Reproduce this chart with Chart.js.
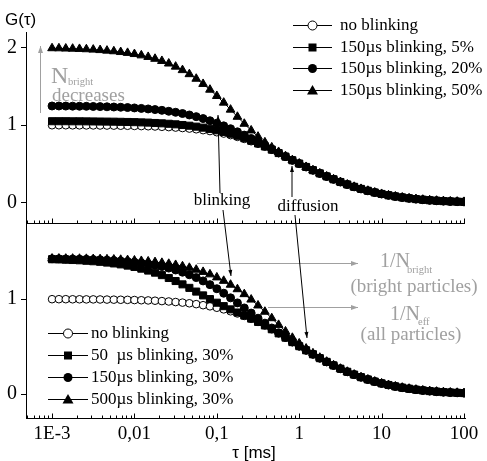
<!DOCTYPE html>
<html><head><meta charset="utf-8">
<script src="https://cdn.jsdelivr.net/npm/chart.js@4/dist/chart.umd.min.js"></script>
<style>html,body{margin:0;padding:0;background:#fff;}#wrap{width:487px;height:461px;position:relative;}</style>
</head><body><div id="wrap"><canvas id="c" width="487" height="461"></canvas></div>
<script>
// ---- data (tau in ms) ----
const tau = [0.001,0.001212,0.001468,0.001778,0.002154,0.002610,0.003162,0.003831,0.004642,0.005623,0.006813,0.008254,
  0.01,0.01212,0.01468,0.01778,0.02154,0.02610,0.03162,0.03831,0.04642,0.05623,0.06813,0.08254,
  0.1,0.1212,0.1468,0.1778,0.2154,0.2610,0.3162,0.3831,0.4642,0.5623,0.6813,0.8254,
  1,1.212,1.468,1.778,2.154,2.610,3.162,3.831,4.642,5.623,6.813,8.254,
  10,12.12,14.68,17.78,21.54,26.10,31.62,38.31,46.42,56.23,68.13,82.54,100];
const noBlink = [0.999,0.999,0.999,0.998,0.998,0.997,0.997,0.996,0.995,0.994,0.993,0.992,
  0.990,0.988,0.986,0.983,0.979,0.975,0.969,0.963,0.956,0.947,0.936,0.924,
  0.909,0.892,0.872,0.849,0.823,0.793,0.760,0.723,0.683,0.640,0.595,0.548,
  0.505,0.462,0.420,0.379,0.340,0.303,0.268,0.236,0.206,0.179,0.155,0.133,
  0.114,0.097,0.082,0.069,0.058,0.048,0.040,0.033,0.027,0.022,0.018,0.015,0.012];
const top5 = [1.051,1.051,1.051,1.050,1.050,1.049,1.048,1.047,1.046,1.045,1.043,1.041,
  1.039,1.036,1.033,1.028,1.024,1.018,1.011,1.002,0.993,0.981,0.968,0.952,
  0.934,0.913,0.889,0.863,0.833,0.800,0.765,0.726,0.685,0.641,0.595,0.548,
  0.505,0.462,0.420,0.379,0.340,0.303,0.268,0.236,0.206,0.179,0.155,0.133,
  0.114,0.097,0.082,0.069,0.058,0.048,0.040,0.033,0.027,0.022,0.018,0.015,0.012];
const top20 = [1.247,1.247,1.246,1.245,1.244,1.243,1.241,1.239,1.237,1.234,1.231,1.227,
  1.222,1.216,1.209,1.201,1.191,1.179,1.166,1.150,1.131,1.110,1.085,1.057,
  1.026,0.991,0.954,0.914,0.872,0.828,0.783,0.737,0.691,0.644,0.596,0.548,
  0.505,0.462,0.420,0.379,0.340,0.303,0.268,0.236,0.206,0.179,0.155,0.133,
  0.114,0.097,0.082,0.069,0.058,0.048,0.040,0.033,0.027,0.022,0.018,0.015,0.012];
const top50 = [1.991,1.990,1.987,1.985,1.982,1.978,1.973,1.967,1.960,1.952,1.942,1.931,
  1.916,1.899,1.879,1.855,1.827,1.794,1.754,1.709,1.657,1.598,1.531,1.457,
  1.376,1.290,1.200,1.108,1.018,0.932,0.852,0.779,0.714,0.655,0.601,0.550,
  0.506,0.462,0.420,0.379,0.340,0.303,0.268,0.236,0.206,0.179,0.155,0.133,
  0.114,0.097,0.082,0.069,0.058,0.048,0.040,0.033,0.027,0.022,0.018,0.015,0.012];
const bot50us = [1.419,1.417,1.414,1.411,1.408,1.403,1.398,1.392,1.384,1.375,1.365,1.352,
  1.338,1.320,1.300,1.278,1.252,1.222,1.190,1.155,1.118,1.079,1.039,1.000,
  0.962,0.926,0.892,0.859,0.827,0.795,0.760,0.723,0.683,0.640,0.595,0.548,
  0.505,0.462,0.420,0.379,0.340,0.303,0.268,0.236,0.206,0.179,0.155,0.133,
  0.114,0.097,0.082,0.069,0.058,0.048,0.040,0.033,0.027,0.022,0.018,0.015,0.012];
const bot150us = [1.424,1.424,1.422,1.421,1.420,1.418,1.415,1.413,1.409,1.405,1.400,1.394,
  1.387,1.379,1.369,1.357,1.342,1.326,1.306,1.283,1.256,1.226,1.191,1.152,
  1.109,1.062,1.013,0.960,0.907,0.853,0.799,0.747,0.696,0.646,0.598,0.549,
  0.505,0.462,0.420,0.379,0.340,0.303,0.268,0.236,0.206,0.179,0.155,0.133,
  0.114,0.097,0.082,0.069,0.058,0.048,0.040,0.033,0.027,0.022,0.018,0.015,0.012];
const bot500us = [1.426,1.426,1.425,1.425,1.424,1.423,1.421,1.420,1.418,1.416,1.413,1.410,
  1.406,1.401,1.396,1.389,1.381,1.371,1.359,1.345,1.329,1.309,1.286,1.260,
  1.228,1.192,1.151,1.104,1.052,0.995,0.933,0.867,0.799,0.729,0.660,0.593,
  0.534,0.480,0.430,0.384,0.342,0.304,0.268,0.236,0.206,0.179,0.155,0.133,
  0.114,0.097,0.082,0.069,0.058,0.048,0.040,0.033,0.027,0.022,0.018,0.015,0.012];

const xTickValues = [0.001,0.01,0.1,1,10,100];
const xTickLabels = ['1E-3','0,01','0,1','1','10','100'];
const yTopTicks = [0,1,2];
const yBotTicks = [0,1];
const topLegend = ['no blinking','150\u00b5s blinking, 5%','150\u00b5s blinking, 20%','150\u00b5s blinking, 50%'];
const botLegend = ['no blinking','50  \u00b5s blinking, 30%','150\u00b5s blinking, 30%','500\u00b5s blinking, 30%'];

// ---- styles ----
const SERIF = "'Liberation Serif','Times New Roman',serif";
const SANS = "'Liberation Sans',Arial,sans-serif";
const GRAY = '#a0a0a0';
const styles = [
  {pointStyle:'circle', r:3.8, fill:'#fff'},
  {pointStyle:'rect', r:5, fill:'#000'},
  {pointStyle:'circle', r:4, fill:'#000'},
  {pointStyle:'triangle', r:5, fill:'#000'}
];
function ds(values, st, axis, order){
  return {
    data: tau.map((t,i)=>({x:t, y:values[i]})),
    yAxisID: axis, order: order,
    borderColor:'#000', borderWidth:1, tension:0,
    pointStyle: st.pointStyle, pointRadius: st.r,
    pointBackgroundColor: st.fill, pointBorderColor:'#000', pointBorderWidth:1
  };
}

function drawMarker(ctx, kind, x, y){
  ctx.save();
  ctx.strokeStyle='#000'; ctx.lineWidth=1;
  ctx.beginPath();
  if (kind===0){ ctx.arc(x,y,4.5,0,Math.PI*2); ctx.fillStyle='#fff'; ctx.fill(); ctx.stroke(); }
  else if (kind===1){ ctx.fillStyle='#000'; ctx.fillRect(x-4,y-4,8,8); }
  else if (kind===2){ ctx.arc(x,y,4.5,0,Math.PI*2); ctx.fillStyle='#000'; ctx.fill(); }
  else { ctx.moveTo(x,y-5.5); ctx.lineTo(x+5.5,y+4); ctx.lineTo(x-5.5,y+4); ctx.closePath(); ctx.fillStyle='#000'; ctx.fill(); }
  ctx.restore();
}
function drawLegend(ctx, items, x0, x1, xt, y0, dy){
  items.forEach((t,i)=>{
    const y = y0 + i*dy;
    ctx.strokeStyle='#000'; ctx.lineWidth=1;
    ctx.beginPath(); ctx.moveTo(x0, Math.round(y)+0.5); ctx.lineTo(x1, Math.round(y)+0.5); ctx.stroke();
    drawMarker(ctx, i, (x0+x1)/2, Math.round(y)+0.5);
    ctx.fillStyle='#000'; ctx.font='17px '+SERIF; ctx.textAlign='left'; ctx.textBaseline='middle';
    ctx.fillText(t, xt, y+1);
  });
}
function arrow(ctx, x1,y1,x2,y2,color,hl,hw){
  ctx.save(); ctx.strokeStyle=color; ctx.fillStyle=color; ctx.lineWidth=1;
  ctx.beginPath(); ctx.moveTo(x1,y1); ctx.lineTo(x2,y2); ctx.stroke();
  const a=Math.atan2(y2-y1,x2-x1);
  ctx.beginPath(); ctx.moveTo(x2,y2);
  ctx.lineTo(x2-hl*Math.cos(a)+hw*Math.sin(a), y2-hl*Math.sin(a)-hw*Math.cos(a));
  ctx.lineTo(x2-hl*Math.cos(a)-hw*Math.sin(a), y2-hl*Math.sin(a)+hw*Math.cos(a));
  ctx.closePath(); ctx.fill(); ctx.restore();
}

const annot = {
  id:'annot',
  afterDraw(chart){
    const ctx = chart.ctx, xs = chart.scales.x, yt = chart.scales.yTop, ca = chart.chartArea;
    ctx.save();
    const yMid = Math.round(yt.bottom)+0.5;
    ctx.strokeStyle='#000'; ctx.lineWidth=1;
    ctx.beginPath(); ctx.moveTo(ca.left, yMid); ctx.lineTo(ca.right, yMid); ctx.stroke();
    // log ticks on middle and bottom axis lines
    for (let e=-4;e<=2;e++){
      for (let k=1;k<=9;k++){
        const v=k*Math.pow(10,e);
        if (v<xs.min || v>xs.max) continue;
        const px=Math.round(xs.getPixelForValue(v))+0.5;
        const len = k===1?5:3;
        [yMid, Math.round(ca.bottom)+0.5].forEach(yy=>{
          ctx.beginPath(); ctx.moveTo(px, yy); ctx.lineTo(px, yy-len); ctx.stroke();
        });
      }
    }
    // axis titles
    ctx.fillStyle='#000'; ctx.textAlign='left'; ctx.textBaseline='alphabetic';
    ctx.font='17px '+SANS; ctx.fillText('G(\u03c4)', 5, 25);
    ctx.textAlign='center'; ctx.fillText('\u03c4 [ms]', 254, 458);
    // legends
    drawLegend(ctx, topLegend, 293, 332, 340, 25, 21.5);
    drawLegend(ctx, botLegend, 48, 88, 91, 333, 22);
    // gray annotations (top)
    arrow(ctx, 40.5, 113, 40.5, 46, GRAY, 7, 2.5);
    ctx.fillStyle=GRAY; ctx.textAlign='left'; ctx.textBaseline='alphabetic';
    ctx.font='24px '+SERIF; ctx.fillText('N', 51, 83);
    ctx.font='10.5px '+SERIF; ctx.fillText('bright', 68, 85);
    ctx.font='19px '+SERIF; ctx.fillText('decreases', 52, 101);
    // gray annotations (bottom)
    arrow(ctx, 197, 263.5, 358, 263.5, GRAY, 7, 2.5);
    arrow(ctx, 268, 307.5, 358, 307.5, GRAY, 7, 2.5);
    ctx.fillStyle=GRAY;
    ctx.font='20px '+SERIF; ctx.fillText('1/N', 380, 267);
    ctx.font='10.5px '+SERIF; ctx.fillText('bright', 407, 273);
    ctx.font='19px '+SERIF; ctx.textAlign='center'; ctx.fillText('(bright particles)', 414, 292);
    ctx.textAlign='left'; ctx.font='20px '+SERIF; ctx.fillText('1/N', 390, 320);
    ctx.font='10.5px '+SERIF; ctx.fillText('eff', 418, 325);
    ctx.font='19px '+SERIF; ctx.textAlign='center'; ctx.fillText('(all particles)', 411, 340);
    // black annotations
    ctx.fillStyle='#000'; ctx.font='17px '+SERIF; ctx.textAlign='center'; ctx.textBaseline='middle';
    ctx.fillText('blinking', 222, 201);
    ctx.fillText('diffusion', 308, 207);
    arrow(ctx, 220, 193, 218, 115, '#000', 6, 2);
    arrow(ctx, 223, 210, 231, 276, '#000', 6, 2);
    arrow(ctx, 292, 197, 292, 166, '#000', 6, 2);
    arrow(ctx, 295, 215, 307, 338, '#000', 6, 2);
    ctx.restore();
  }
};

const yCommon = (ticksArr, weight, sw, min, max) => ({
  type:'linear', position:'left', stack:'panels', stackWeight: sw, weight: weight,
  min:min, max:max,
  afterBuildTicks: s => { s.ticks = ticksArr.map(v=>({value:v})); },
  afterFit: s => { s.width = 26; },
  grid:{display:true, drawOnChartArea:false, drawTicks:true, tickLength:5, color:'#000', lineWidth:1},
  border:{display:true, color:'#000', width:1},
  ticks:{padding:4, color:'#000', font:{family:SERIF, size:20}}
});

new Chart(document.getElementById('c'), {
  type:'line',
  data:{datasets:[
    ds(noBlink, styles[0], 'yTop', 4),
    ds(top5, styles[1], 'yTop', 3),
    ds(top20, styles[2], 'yTop', 2),
    ds(top50, styles[3], 'yTop', 1),
    ds(noBlink, styles[0], 'yBot', 4),
    ds(bot50us, styles[1], 'yBot', 3),
    ds(bot150us, styles[2], 'yBot', 2),
    ds(bot500us, styles[3], 'yBot', 1)
  ]},
  options:{
    responsive:false, animation:false, devicePixelRatio:1,
    layout:{padding:{top:32, right:22, left:0, bottom:0}},
    plugins:{legend:{display:false}, tooltip:{enabled:false}},
    scales:{
      x:{type:'logarithmic', position:'bottom', min:4.83e-4, max:102.8,
        afterBuildTicks: s => { s.ticks = xTickValues.map(v=>({value:v})); },
        afterFit: s => { s.height = 43; },
        grid:{display:false, drawTicks:false},
        border:{display:true, color:'#000', width:1},
        ticks:{autoSkip:false, maxRotation:0, padding:5, color:'#000', font:{family:SERIF, size:19},
          callback:(v,i)=>xTickLabels[i]}},
      yBot: yCommon(yBotTicks, 0, 195, -0.25, 1.8),
      yTop: yCommon(yTopTicks, 1, 191, -0.26, 2.2)
    }
  },
  plugins:[annot]
});
</script></body></html>
